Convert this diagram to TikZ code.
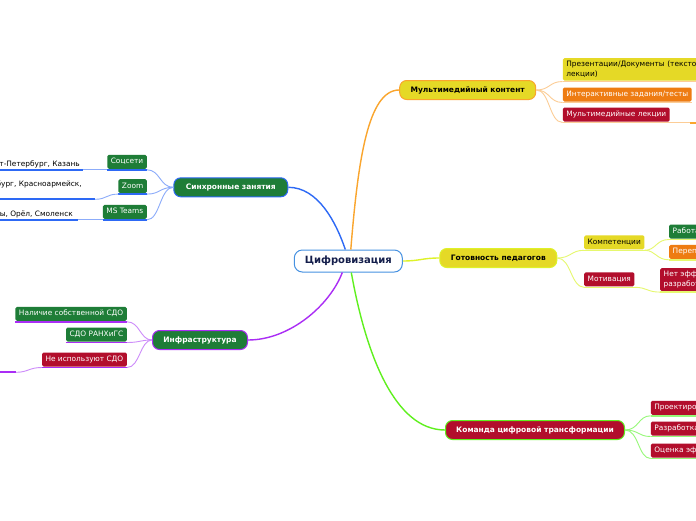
\documentclass[tikz,border=0pt]{standalone}
\usepackage{fontspec}
\setmainfont{DejaVu Sans}
\definecolor{cyel}{RGB}{229,217,38}
\definecolor{corg}{RGB}{238,124,18}
\definecolor{cred}{RGB}{178,14,44}
\definecolor{cgrn}{RGB}{30,125,55}
\definecolor{lblue}{RGB}{45,105,245}
\definecolor{lblueL}{RGB}{140,172,250}
\definecolor{lorg}{RGB}{250,165,45}
\definecolor{lorgL}{RGB}{252,205,150}
\definecolor{lyel}{RGB}{222,242,40}
\definecolor{lyelL}{RGB}{230,248,110}
\definecolor{lpur}{RGB}{170,45,245}
\definecolor{lpurL}{RGB}{205,140,250}
\definecolor{lgrn}{RGB}{95,240,30}
\definecolor{lgrnL}{RGB}{150,248,120}
\definecolor{cnavy}{RGB}{20,30,75}
\definecolor{cborder}{RGB}{70,145,225}
\newcommand\leaffont{\fontsize{7.4}{9.4}\selectfont}
\begin{document}
\begin{tikzpicture}[x=1pt,y=-1pt,
  mainbox/.style={rounded corners=7pt, line width=1pt, minimum height=19pt, inner sep=0pt, text=white, font=\bfseries\fontsize{7.5}{9}\selectfont},
  leafbase/.style={rounded corners=1.5pt, inner xsep=3.5pt, inner ysep=0pt, font=\leaffont, text=white},
  leaf/.style={leafbase, minimum height=14pt, text height=5.6pt, text depth=1.6pt},
  twoline/.style={leafbase, inner ysep=2.5pt, align=left},
  gtext/.style={inner sep=0pt, font=\leaffont, text=black},
  mconn/.style={line width=1.4pt},
  cconn/.style={line width=0.9pt},
  bul/.style={line width=1.4pt},
  gul/.style={line width=2pt}]
\useasboundingbox (0,0) rectangle (696,520);
\fill[white] (0,0) rectangle (696,520);
\clip (0,0) rectangle (696,520);

% central and main nodes
\node[draw=cborder, line width=1pt, fill=white, rounded corners=8pt, minimum width=108pt, minimum height=22pt, inner sep=0pt, text=cnavy, font=\bfseries\fontsize{10}{12}\selectfont] (c) at (348.3,261) {Цифровизация};
\node[mainbox, fill=cyel, draw=lorg, text=black, minimum width=136pt] (mm) at (467.7,90) {Мультимедийный контент};
\node[mainbox, fill=cgrn, draw=lblue, minimum width=114pt] (sync) at (230.8,187.3) {Синхронные занятия};
\node[mainbox, fill=cyel, draw=lyel, text=black, minimum width=117pt] (ready) at (498.3,258) {Готовность педагогов};
\node[mainbox, fill=cgrn, draw=lpur, minimum width=95pt] (infra) at (200,340) {Инфраструктура};
\node[mainbox, fill=cred, draw=lgrn, minimum width=179pt] (team) at (535,430) {Команда цифровой трансформации};

% main connectors
\draw[mconn, lorg] ([xshift=2.5pt]c.north) .. controls (358,160) and (368,90) .. (mm.west);
\draw[mconn, lblue] ([xshift=-3pt]c.north) .. controls (336,222) and (318,187.3) .. (sync.east);
\draw[mconn, lyel] (c.east) .. controls (420,261) and (422,258) .. (ready.west);
\draw[mconn, lpur] ([xshift=-6pt]c.south) .. controls (330,305) and (290,340) .. (infra.east);
\draw[mconn, lgrn] ([xshift=3pt]c.south) .. controls (366,355) and (395,430) .. (team.west);

% Synchronous lessons
\node[leaf, fill=cgrn, anchor=south east] (soc) at (147,169) {Соцсети};
\node[leaf, fill=cgrn, anchor=south east] (zm) at (147,193.3) {Zoom};
\node[leaf, fill=cgrn, anchor=south east] (mst) at (147,219) {MS Teams};
\foreach \n in {soc,zm,mst}{\draw[bul, lblue] ([yshift=-0.8pt]\n.south west) -- ([yshift=-0.8pt]\n.south east);}
\draw[cconn, lblueL] (sync.west) .. controls (160,187.3) and (160,169.8) .. ([yshift=-0.8pt]soc.south east);
\draw[cconn, lblueL] (sync.west) .. controls (160,187.3) and (160,194.1) .. ([yshift=-0.8pt]zm.south east);
\draw[cconn, lblueL] (sync.west) .. controls (160,187.3) and (160,219.8) .. ([yshift=-0.8pt]mst.south east);

\node[gtext, anchor=base east] (g1) at (80,166) {Москва, Санкт-Петербург, Казань};
\coordinate (g1r) at (83,169.8);
\draw[gul, lblue] (g1.west |- g1r) -- (g1r);
\draw[cconn, lblueL] (g1r) -- ([yshift=-0.8pt]soc.south west);
\node[gtext, anchor=base east] (g2) at (82,186) {Москва, Екатеринбург, Красноармейск,};
\coordinate (g2r) at (95,199.3);
\draw[gul, lblue] (g2.west |- g2r) -- (g2r);
\draw[cconn, lblueL] (g2r) .. controls (107,199.3) and (106,194.1) .. ([yshift=-0.8pt]zm.south west);
\node[gtext, anchor=base east] (g3) at (73,216) {Чебоксары, Орёл, Смоленск};
\coordinate (g3r) at (78,219.8);
\draw[gul, lblue] (g3.west |- g3r) -- (g3r);
\draw[cconn, lblueL] (g3r) -- ([yshift=-0.8pt]mst.south west);

% Infrastructure
\node[leaf, fill=cgrn, anchor=south east] (nal) at (127,321) {Наличие собственной СДО};
\node[leaf, fill=cgrn, anchor=south east] (sdo) at (127,341.7) {СДО РАНХиГС};
\node[leaf, fill=cred, anchor=south east] (neis) at (127,366.7) {Не используют СДО};
\foreach \n in {nal,sdo,neis}{\draw[bul, lpur] ([yshift=-0.8pt]\n.south west) -- ([yshift=-0.8pt]\n.south east);}
\draw[cconn, lpurL] (infra.west) .. controls (140,340) and (140,321.8) .. ([yshift=-0.8pt]nal.south east);
\draw[cconn, lpurL] (infra.west) .. controls (140,340) and (140,342.5) .. ([yshift=-0.8pt]sdo.south east);
\draw[cconn, lpurL] (infra.west) .. controls (140,340) and (140,367.5) .. ([yshift=-0.8pt]neis.south east);
\coordinate (g4l) at (-10,372.3);
\coordinate (g4r) at (16,372.3);
\draw[gul, lpur] (g4l) -- (g4r);
\draw[cconn, lpurL] (g4r) .. controls (28,372.3) and (29,367.5) .. ([yshift=-0.8pt]neis.south west);

% Multimedia content
\node[twoline, fill=cyel, text=black, anchor=south west, minimum height=22.4pt, text width=160pt] (pres) at (562.7,80.7) {Презентации/Документы (текстовые\\лекции)};
\node[leaf, fill=corg, anchor=south west] (inter) at (562.7,101.7) {Интерактивные задания/тесты};
\node[leaf, fill=cred, anchor=south west] (mlec) at (562.7,121.7) {Мультимедийные лекции};
\foreach \n in {pres,inter,mlec}{\draw[bul, lorgL] ([yshift=-0.8pt]\n.south west) -- ([yshift=-0.8pt]\n.south east);}
\draw[cconn, lorgL] (mm.east) .. controls (550,90) and (549,81.5) .. ([yshift=-0.8pt]pres.south west);
\draw[cconn, lorgL] (mm.east) .. controls (550,90) and (549,102.5) .. ([yshift=-0.8pt]inter.south west);
\draw[cconn, lorgL] (mm.east) .. controls (550,90) and (549,122.5) .. ([yshift=-0.8pt]mlec.south west);
\coordinate (g5l) at (690,122.5);
\coordinate (g5r) at (710,122.5);
\draw[cconn, lorgL] ([yshift=-0.8pt]mlec.south east) -- (g5l);
\draw[gul, lorg] (g5l) -- (g5r);

% Teachers' readiness
\node[leaf, fill=cyel, text=black, anchor=south west] (komp) at (584,249.5) {Компетенции};
\node[leaf, fill=cred, anchor=south west] (motiv) at (584,286.5) {Мотивация};
\node[leaf, fill=cgrn, anchor=south west] (rab) at (669,238.7) {Работа в СДО};
\node[leaf, fill=corg, anchor=south west] (perep) at (669,259) {Переподготовка};
\node[twoline, fill=cred, anchor=south west, minimum height=23pt] (net) at (660,291.3) {Нет эффективных\\разработок};
\foreach \n in {komp,motiv,rab,perep,net}{\draw[bul, lyelL] ([yshift=-0.8pt]\n.south west) -- ([yshift=-0.8pt]\n.south east);}
\draw[cconn, lyelL] (ready.east) .. controls (571,258) and (571,250.3) .. ([yshift=-0.8pt]komp.south west);
\draw[cconn, lyelL] (ready.east) .. controls (571,258) and (571,287.3) .. ([yshift=-0.8pt]motiv.south west);
\draw[cconn, lyelL] ([yshift=-0.8pt]komp.south east) .. controls (656,250.3) and (656,239.5) .. ([yshift=-0.8pt]rab.south west);
\draw[cconn, lyelL] ([yshift=-0.8pt]komp.south east) .. controls (656,250.3) and (656,259.8) .. ([yshift=-0.8pt]perep.south west);
\draw[cconn, lyelL] ([yshift=-0.8pt]motiv.south east) .. controls (647,287.3) and (647,292.1) .. ([yshift=-0.8pt]net.south west);

% Digital transformation team
\node[leaf, fill=cred, anchor=south west] (proj) at (650.7,415) {Проектирование};
\node[leaf, fill=cred, anchor=south west] (razr) at (650.7,435.7) {Разработка};
\node[leaf, fill=cred, anchor=south west] (ocen) at (650.7,457.7) {Оценка эффективности};
\foreach \n in {proj,razr,ocen}{\draw[bul, lgrnL] ([yshift=-0.8pt]\n.south west) -- ([yshift=-0.8pt]\n.south east);}
\draw[cconn, lgrnL] (team.east) .. controls (639,430) and (638,415.8) .. ([yshift=-0.8pt]proj.south west);
\draw[cconn, lgrnL] (team.east) .. controls (639,430) and (638,436.5) .. ([yshift=-0.8pt]razr.south west);
\draw[cconn, lgrnL] (team.east) .. controls (639,430) and (638,458.5) .. ([yshift=-0.8pt]ocen.south west);
\end{tikzpicture}
\end{document}
